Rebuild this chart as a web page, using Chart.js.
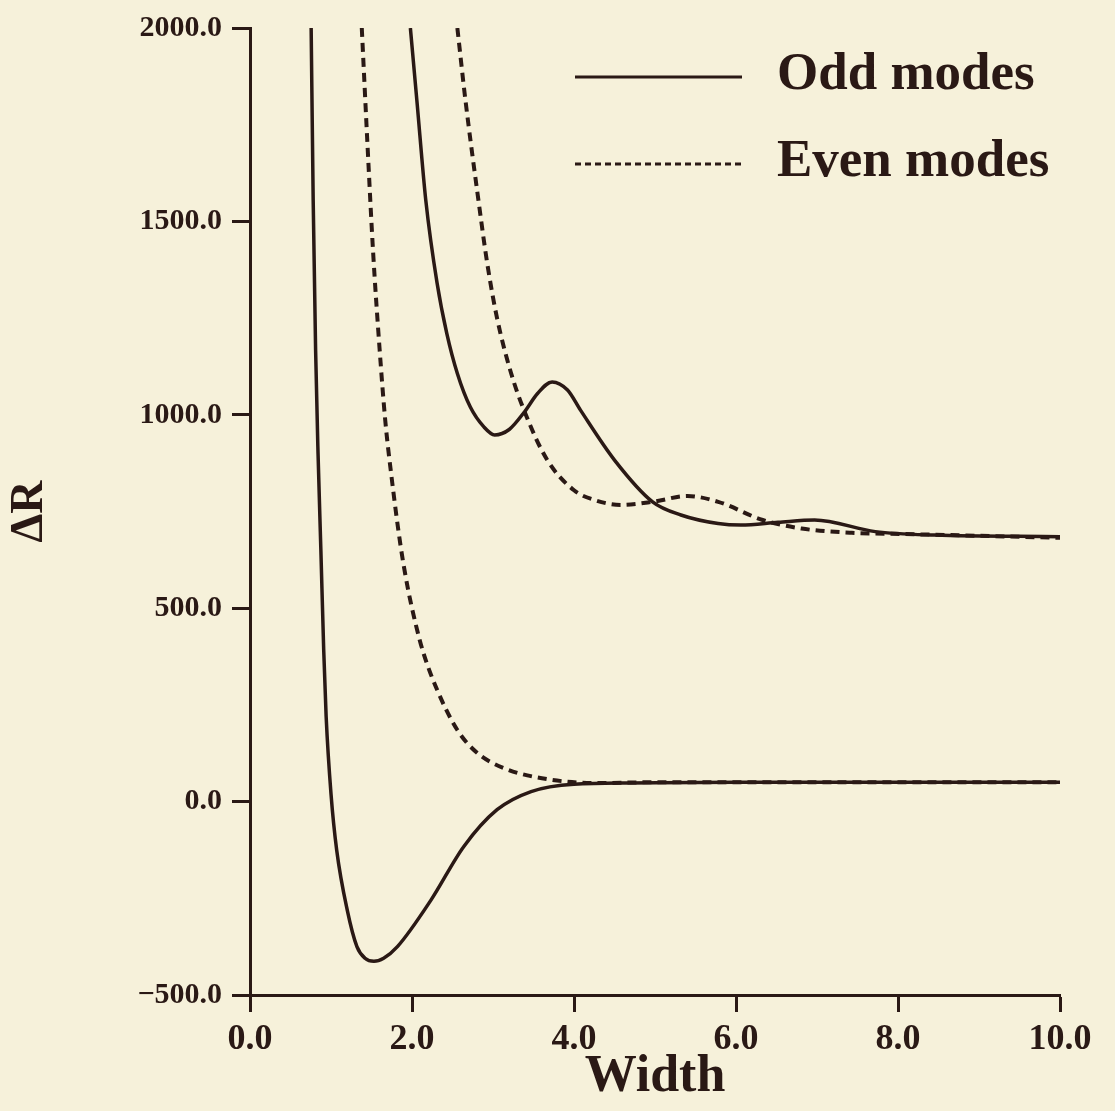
<!DOCTYPE html>
<html>
<head>
<meta charset="utf-8">
<script src="https://cdn.jsdelivr.net/npm/chart.js@4/dist/chart.umd.min.js"></script>
<style>
  html, body { margin: 0; padding: 0; background: #f6f1da; }
  canvas { display: block; }
</style>
</head>
<body>
<canvas id="modeChart" width="1115" height="1111"></canvas>
<script>
// Dati (Width, ΔR)
const oddLowerX = [0.755, 0.78, 0.81, 0.84, 0.875, 0.91, 0.94, 1.0, 1.07, 1.20, 1.32, 1.42, 1.53, 1.65, 1.82, 2.23, 2.64, 3.05, 3.47, 4.0, 4.7, 6.0, 8.0, 10.0];
const oddLowerY = [2000, 1555, 1167, 900, 650, 392, 220, 20, -125, -280, -375, -405, -413, -405, -375, -256, -116, -21, 26, 45, 48, 50, 50, 50];

const evenLowerX = [1.38, 1.45, 1.52, 1.60, 1.67, 1.75, 1.86, 1.95, 2.05, 2.14, 2.31, 2.56, 2.81, 3.14, 3.67, 4.29, 5.0, 7.0, 10.0];
const evenLowerY = [2000, 1700, 1420, 1170, 985, 835, 660, 550, 455, 385, 289, 185, 125, 86, 58, 48, 50, 50, 50];

const oddUpperX = [1.98, 2.06, 2.17, 2.31, 2.43, 2.56, 2.72, 2.89, 3.02, 3.2, 3.39, 3.55, 3.73, 3.92, 4.08, 4.50, 4.97, 5.32, 5.78, 6.06, 6.52, 6.97, 7.72, 8.45, 10.0];
const oddUpperY = [2000, 1813, 1555, 1340, 1210, 1107, 1020, 968, 948, 962, 1008, 1055, 1085, 1064, 1012, 883, 775, 741, 719, 715, 722, 728, 698, 689, 685];

const evenUpperX = [2.56, 2.66, 2.82, 2.93, 3.05, 3.22, 3.39, 3.67, 4.0, 4.25, 4.58, 4.97, 5.40, 5.78, 6.33, 6.81, 7.43, 8.04, 10.0];
const evenUpperY = [2000, 1813, 1555, 1390, 1250, 1110, 1008, 883, 805, 780, 767, 775, 790, 775, 728, 706, 695, 692, 682];

const legendLabels = ['Odd modes', 'Even modes'];
const xTitle = 'Width';
const yTitle = '\u0394R';

const ink = '#2a1915';

function toPoints(xs, ys) {
    return xs.map((x, i) => ({ x: x, y: ys[i] }));
}

function curve(xs, ys, dashed) {
    return {
        data: toPoints(xs, ys),
        showLine: true,
        borderColor: ink,
        borderWidth: dashed ? 4 : 3.5,
        borderDash: dashed ? [9, 6] : [],
        pointRadius: 0,
        cubicInterpolationMode: 'monotone',
        fill: false
    };
}

// Legenda disegnata dentro l'area del grafico
const legendPlugin = {
    id: 'insideLegend',
    afterDatasetsDraw(chart) {
        const { ctx, chartArea } = chart;
        const lineStart = chartArea.left + 325;
        const lineEnd = chartArea.left + 492;
        const textX = chartArea.left + 527;
        const rows = [chartArea.top + 49, chartArea.top + 136];
        ctx.save();
        ctx.strokeStyle = ink;
        ctx.fillStyle = ink;
        ctx.lineWidth = 3;
        ctx.font = 'bold 53px "Liberation Serif"';
        ctx.textBaseline = 'middle';
        rows.forEach((y, i) => {
            ctx.setLineDash(i === 0 ? [] : [6, 4]);
            ctx.beginPath();
            ctx.moveTo(lineStart, y);
            ctx.lineTo(lineEnd, y);
            ctx.stroke();
            ctx.fillText(legendLabels[i], textX, y - 2);
        });
        ctx.restore();
    }
};

const ctx = document.getElementById('modeChart').getContext('2d');
new Chart(ctx, {
    type: 'scatter',
    data: {
        datasets: [
            curve(oddLowerX, oddLowerY, false),
            curve(evenLowerX, evenLowerY, true),
            curve(oddUpperX, oddUpperY, false),
            curve(evenUpperX, evenUpperY, true)
        ]
    },
    options: {
        responsive: false,
        animation: false,
        devicePixelRatio: 1,
        layout: { padding: { top: 28, right: 55, left: 0, bottom: 0 } },
        plugins: {
            legend: { display: false },
            tooltip: { enabled: false }
        },
        scales: {
            x: {
                type: 'linear',
                min: 0,
                max: 10,
                afterFit(scale) { scale.height = 116; },
                border: { display: true, color: ink, width: 3 },
                grid: { drawOnChartArea: false, drawTicks: true, tickLength: 17, tickWidth: 3, tickColor: ink },
                ticks: {
                    stepSize: 2,
                    padding: 6,
                    color: ink,
                    maxRotation: 0,
                    font: { family: 'Liberation Serif', weight: 'bold', size: 36 },
                    callback: v => v.toFixed(1)
                },
                title: {
                    display: true,
                    text: xTitle,
                    color: ink,
                    padding: { top: 0, bottom: 7 },
                    font: { family: 'Liberation Serif', weight: 'bold', size: 52, lineHeight: 1 }
                }
            },
            y: {
                type: 'linear',
                min: -500,
                max: 2000,
                afterFit(scale) { scale.width = 250; },
                border: { display: true, color: ink, width: 3 },
                grid: { drawOnChartArea: false, drawTicks: true, tickLength: 18, tickWidth: 3, tickColor: ink },
                ticks: {
                    stepSize: 500,
                    padding: 10,
                    color: ink,
                    font: { family: 'Liberation Serif', weight: 'bold', size: 30 },
                    callback: v => (v < 0 ? '\u2212' + Math.abs(v).toFixed(1) : v.toFixed(1))
                },
                title: {
                    display: true,
                    text: yTitle,
                    color: ink,
                    padding: { top: 7, bottom: 0 },
                    font: { family: 'Liberation Serif', weight: 'bold', size: 46, lineHeight: 1 }
                }
            }
        }
    },
    plugins: [legendPlugin]
});
</script>
</body>
</html>
